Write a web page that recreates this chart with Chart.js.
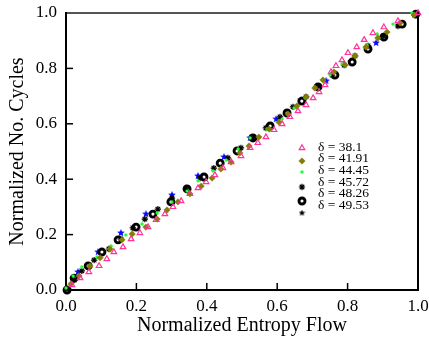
<!DOCTYPE html>
<html><head><meta charset="utf-8">
<script src="https://cdn.jsdelivr.net/npm/chart.js@4/dist/chart.umd.min.js"></script>
<style>html,body{margin:0;padding:0;background:#fff;}#wrap{width:429px;height:343px;}</style>
</head><body><div id="wrap"><canvas id="c" width="429" height="343"></canvas></div>
<script>
const seriesLabels = ['δ = 38.1','δ = 41.91','δ = 44.45','δ = 45.72','δ = 48.26','δ = 49.53'];
const xTickLabels = ['0.0','0.2','0.4','0.6','0.8','1.0'];
const yTickLabels = ['0.0','0.2','0.4','0.6','0.8','1.0'];
const xTitle = 'Normalized Entropy Flow';
const yTitle = 'Normalized No. Cycles';

const d381 = [[0.017,0.018],[0.040,0.043],[0.065,0.065],[0.094,0.087],[0.116,0.112],[0.136,0.137],[0.162,0.155],[0.185,0.184],[0.210,0.206],[0.233,0.227],[0.256,0.253],[0.281,0.274],[0.304,0.300],[0.327,0.321],[0.352,0.347],[0.375,0.368],[0.398,0.390],[0.423,0.415],[0.446,0.440],[0.469,0.462],[0.497,0.484],[0.523,0.513],[0.545,0.531],[0.568,0.552],[0.591,0.578],[0.614,0.599],[0.636,0.625],[0.659,0.646],[0.682,0.668],[0.702,0.693],[0.719,0.715],[0.736,0.740],[0.753,0.787],[0.767,0.809],[0.784,0.830],[0.801,0.856],[0.826,0.877],[0.847,0.903],[0.872,0.928],[0.903,0.949],[0.943,0.971],[1.0,1.0]];
const d4191 = [[0.014,0.022],[0.037,0.051],[0.068,0.087],[0.097,0.116],[0.125,0.148],[0.159,0.181],[0.188,0.202],[0.227,0.227],[0.259,0.256],[0.287,0.289],[0.318,0.318],[0.352,0.347],[0.384,0.375],[0.415,0.404],[0.440,0.437],[0.469,0.462],[0.494,0.495],[0.520,0.520],[0.548,0.552],[0.577,0.581],[0.605,0.606],[0.631,0.635],[0.656,0.664],[0.682,0.697],[0.707,0.729],[0.730,0.758],[0.761,0.787],[0.793,0.812],[0.821,0.845],[0.852,0.877],[0.886,0.910],[0.912,0.931],[0.949,0.964],[0.989,0.993]];
const d4445 = [[0.0,0.007],[0.020,0.051],[0.045,0.083],[0.088,0.119],[0.128,0.159],[0.170,0.199],[0.216,0.238],[0.259,0.278],[0.301,0.318],[0.344,0.357],[0.375,0.394],[0.418,0.430],[0.455,0.469],[0.489,0.509],[0.523,0.549],[0.571,0.581],[0.614,0.617],[0.648,0.657],[0.679,0.693],[0.707,0.729],[0.750,0.776],[0.784,0.816],[0.821,0.848],[0.855,0.884],[0.884,0.924],[0.929,0.960],[0.983,1.0]];
const d4572 = [[0.003,0.004],[0.023,0.036],[0.045,0.069],[0.080,0.108],[0.122,0.148],[0.156,0.184],[0.190,0.224],[0.224,0.256],[0.261,0.292],[0.301,0.332],[0.341,0.368],[0.381,0.404],[0.420,0.440],[0.460,0.477],[0.497,0.513],[0.531,0.549],[0.568,0.585],[0.608,0.625],[0.645,0.661],[0.682,0.697],[0.719,0.736],[0.756,0.776],[0.790,0.812],[0.821,0.845],[0.858,0.881],[0.901,0.917],[0.943,0.953],[0.991,0.993]];
const d4826 = [[0.003,0.0],[0.023,0.043],[0.063,0.087],[0.102,0.137],[0.148,0.181],[0.199,0.227],[0.247,0.274],[0.298,0.318],[0.344,0.365],[0.392,0.408],[0.438,0.458],[0.486,0.502],[0.531,0.549],[0.580,0.592],[0.628,0.639],[0.670,0.682],[0.716,0.733],[0.764,0.776],[0.813,0.823],[0.858,0.870],[0.903,0.913],[0.955,0.960],[0.994,0.996]];
const d4953 = [[0.005,0.0],[0.034,0.065],[0.091,0.137],[0.156,0.206],[0.227,0.274],[0.301,0.343],[0.375,0.412],[0.449,0.480],[0.523,0.549],[0.597,0.617],[0.668,0.686],[0.739,0.755],[0.810,0.823],[0.881,0.892],[0.955,0.960]];

function starCanvas(color, size) {
  const c = document.createElement('canvas');
  c.width = size; c.height = size;
  const g = c.getContext('2d');
  const cx = size/2, cy = size/2, R = size/2, r = size/4.4;
  g.beginPath();
  for (let i = 0; i < 10; i++) {
    const a = -Math.PI/2 + i*Math.PI/5;
    const rr = i % 2 === 0 ? R : r;
    g.lineTo(cx + rr*Math.cos(a), cy + rr*Math.sin(a));
  }
  g.closePath();
  g.fillStyle = color; g.fill();
  return c;
}
const blueStar = starCanvas('#0a0aff', 8);
const blackStar = starCanvas('#000000', 7);

const toXY = a => a.map(p => ({x: p[0], y: p[1]}));
const styles = [
  {pointStyle:'triangle', radius:3.2, borderWidth:1.2, borderColor:'#ff3399', backgroundColor:'rgba(255,255,255,0)'},
  {pointStyle:'rectRot', radius:3.2, borderWidth:0.5, borderColor:'#7a7a00', backgroundColor:'#808000'},
  {pointStyle:'circle', radius:1.7, borderWidth:0, borderColor:'#22ff33', backgroundColor:'#22ff33'},
  {pointStyle:'star', radius:3.2, borderWidth:1.2, borderColor:'#000', backgroundColor:'#000'},
  {pointStyle:'circle', radius:3.0, borderWidth:2.9, borderColor:'#000', backgroundColor:'#fff'},
  {pointStyle:blueStar, radius:4, borderWidth:0, borderColor:'#0a0aff', backgroundColor:'#0a0aff'}
];
const allData = [d381, d4191, d4445, d4572, d4826, d4953];

const datasets = allData.map((d, i) => ({
  label: seriesLabels[i],
  data: toXY(d),
  showLine: false,
  clip: false,
  pointStyle: styles[i].pointStyle,
  pointRadius: styles[i].radius,
  pointHoverRadius: styles[i].radius,
  pointBorderWidth: styles[i].borderWidth,
  pointBorderColor: styles[i].borderColor,
  pointBackgroundColor: styles[i].backgroundColor
}));

const framePlugin = {
  id: 'frame',
  beforeDatasetsDraw(chart) {
    const {ctx, chartArea: a, scales} = chart;
    ctx.save();
    ctx.lineWidth = 2;
    ctx.strokeStyle = '#555';
    ctx.beginPath(); ctx.moveTo(a.left, a.top); ctx.lineTo(a.right, a.top); ctx.stroke();
    ctx.strokeStyle = '#000';
    ctx.beginPath(); ctx.moveTo(a.left, a.top - 1); ctx.lineTo(a.left, a.bottom); ctx.lineTo(a.right, a.bottom); ctx.lineTo(a.right, a.top - 1); ctx.stroke();
    ctx.lineWidth = 1.5;
    [0.2,0.4,0.6,0.8].forEach(v => {
      const px = scales.x.getPixelForValue(v);
      ctx.beginPath(); ctx.moveTo(px, a.bottom); ctx.lineTo(px, a.bottom - 7); ctx.stroke();
      const py = scales.y.getPixelForValue(v);
      ctx.beginPath(); ctx.moveTo(a.left, py); ctx.lineTo(a.left + 7, py); ctx.stroke();
    });
    ctx.restore();
  }
};

const legendPlugin = {
  id: 'innerLegend',
  afterDraw(chart) {
    const {ctx} = chart;
    const markerY = [148, 161, 172, 187, 201, 213];
    const textY = [147, 158.5, 170.5, 182, 193.5, 205];
    ctx.save();
    for (let i = 0; i < seriesLabels.length; i++) {
      const s = styles[i];
      ctx.fillStyle = s.backgroundColor;
      ctx.strokeStyle = s.borderColor;
      ctx.lineWidth = s.borderWidth;
      if (i === 5) {
        ctx.drawImage(blackStar, 302 - 3.5, markerY[i] - 3.5, 7, 7);
      } else {
        Chart.helpers.drawPoint(ctx, {pointStyle: s.pointStyle, radius: s.radius, rotation: 0, borderWidth: s.borderWidth}, 302, markerY[i]);
      }
      ctx.fillStyle = '#000';
      ctx.font = '13.5px "Liberation Serif"';
      ctx.textBaseline = 'middle';
      ctx.textAlign = 'left';
      ctx.fillText(seriesLabels[i], 318, textY[i]);
    }
    ctx.restore();
  }
};

new Chart(document.getElementById('c'), {
  type: 'scatter',
  data: { datasets },
  options: {
    responsive: false,
    animation: false,
    devicePixelRatio: 1,
    layout: { padding: { left: 0, right: 11, top: 13, bottom: 0 } },
    plugins: { legend: { display: false }, tooltip: { enabled: false } },
    scales: {
      x: {
        type: 'linear', min: 0, max: 1,
        border: { display: false },
        grid: { display: false, drawTicks: false },
        ticks: {
          stepSize: 0.2, padding: 6, color: '#000',
          font: { family: '"Liberation Serif"', size: 17 },
          maxRotation: 0, autoSkip: false,
          callback: (v, i) => xTickLabels[i]
        },
        title: { display: true, text: xTitle, color: '#000', padding: { top: 0, bottom: 5 },
          font: { family: '"Liberation Serif"', size: 20 } },
        afterFit: s => { s.height = 53; s.paddingLeft = 0; s.paddingRight = 0; }
      },
      y: {
        type: 'linear', min: 0, max: 1,
        border: { display: false },
        grid: { display: false, drawTicks: false },
        ticks: {
          stepSize: 0.2, padding: 9, color: '#000',
          font: { family: '"Liberation Serif"', size: 17 },
          autoSkip: false,
          callback: (v, i) => yTickLabels[i]
        },
        title: { display: true, text: yTitle, color: '#000', padding: { top: 6, bottom: 0 },
          font: { family: '"Liberation Serif"', size: 20 } },
        afterFit: s => { s.width = 66; s.paddingTop = 0; s.paddingBottom = 0; }
      }
    }
  },
  plugins: [framePlugin, legendPlugin]
});
</script>
</body></html>
